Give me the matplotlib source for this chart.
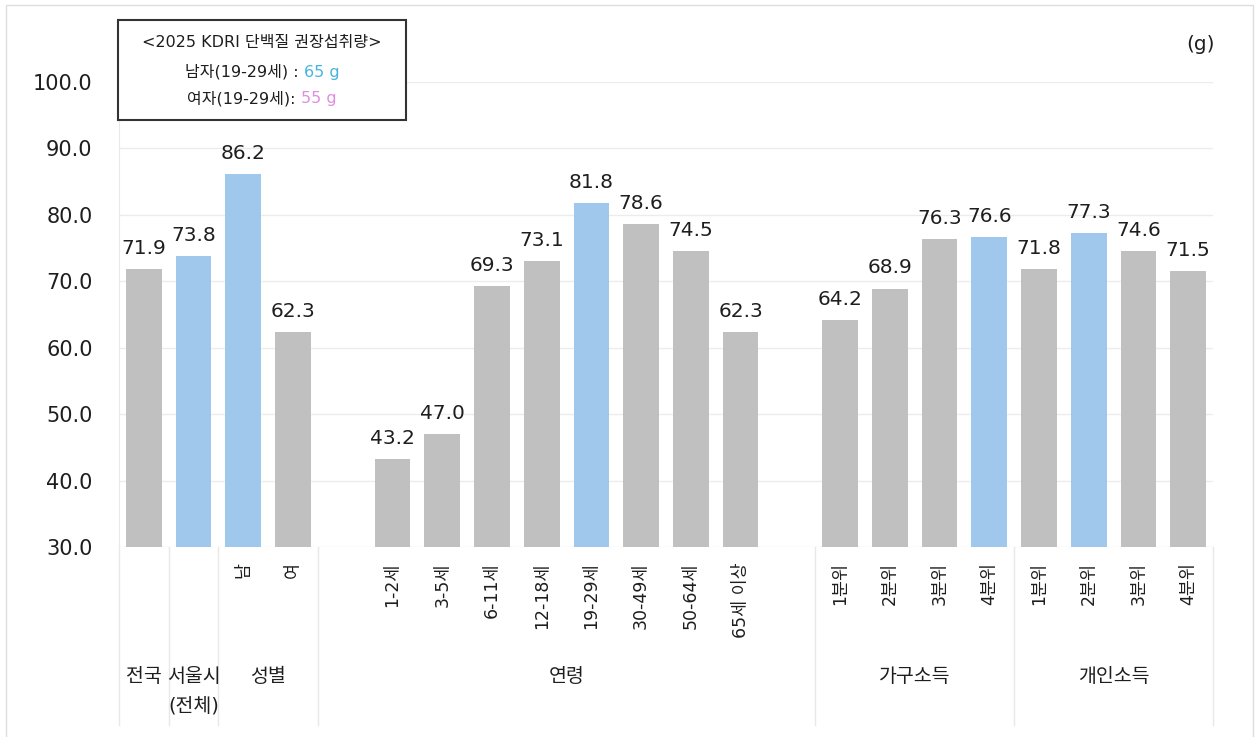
import matplotlib
matplotlib.use("Agg")
import matplotlib.pyplot as plt
from matplotlib.patches import Rectangle

plt.rcParams['font.family'] = ['DejaVu Sans', 'Noto Sans CJK KR']

# ---- data ----
group_names = ['전국', '서울시\n(전체)', '성별', '연령', '가구소득', '개인소득']
group_sizes = [1, 1, 2, 8, 4, 4]
group_pad = [0, 0, 0, 1, 0, 0]          # empty slots on each side of a group

tick_labels = ['', '', '남', '여',
               '1-2세', '3-5세', '6-11세', '12-18세', '19-29세', '30-49세', '50-64세', '65세 이상',
               '1분위', '2분위', '3분위', '4분위',
               '1분위', '2분위', '3분위', '4분위']
values = [71.9, 73.8, 86.2, 62.3,
          43.2, 47.0, 69.3, 73.1, 81.8, 78.6, 74.5, 62.3,
          64.2, 68.9, 76.3, 76.6,
          71.8, 77.3, 74.6, 71.5]
highlight = [0, 1, 1, 0,
             0, 0, 0, 0, 1, 0, 0, 0,
             0, 0, 0, 1,
             0, 1, 0, 0]

y_ticks = [30, 40, 50, 60, 70, 80, 90, 100]

box_title = '<2025 KDRI 단백질 권장섭취량>'
box_rows = [('남자(19-29세) : ', '65 g'), ('여자(19-29세): ', '55 g')]
unit_label = '(g)'

# ---- styles ----
GRAY = '#c0c0c0'
BLUE = '#9fc8ec'
GRID = '#ececec'
SEP = '#e8e8e8'
TXT = '#1e1e1e'
ROW_COLORS = ['#46b4de', '#e08ee0']

W, H = 1255, 737
fig = plt.figure(figsize=(W / 100, H / 100), dpi=100)

ax_l, ax_r, ax_top, ax_bot = 119, 1213, 82, 547
ax = fig.add_axes([ax_l / W, (H - ax_bot) / H, (ax_r - ax_l) / W, (ax_bot - ax_top) / H])

# slot positions for every bar, plus the spans of each group
xs, spans = [], []
pos = 0
for size, pad in zip(group_sizes, group_pad):
    start = pos
    pos += pad
    for _ in range(size):
        xs.append(pos)
        pos += 1
    pos += pad
    spans.append((start - 0.5, pos - 0.5))
n_slots = pos

colors = [BLUE if h else GRAY for h in highlight]
bars = ax.bar(xs, [v - 30 for v in values], bottom=30, width=0.72, color=colors, zorder=3)
for b, v in zip(bars, values):
    ax.annotate(f'{v:.1f}', (b.get_x() + b.get_width() / 2, v), xytext=(0, 8),
                textcoords='offset points', ha='center', va='bottom',
                fontsize=14.5, color=TXT)

ax.set_xlim(-0.5, n_slots - 0.5)
ax.set_ylim(30, 100)
ax.set_yticks(y_ticks)
ax.set_yticklabels([f'{t:.1f}' for t in y_ticks], fontsize=15, color=TXT)
ax.tick_params(axis='y', length=0, pad=19)
ax.set_xticks(xs)
ax.set_xticklabels(tick_labels, rotation=90, fontsize=12.5, color=TXT)
ax.tick_params(axis='x', length=0, pad=11)

for t in y_ticks:
    ax.axhline(t, color=GRID, lw=1, zorder=1)
for s in ['top', 'right', 'bottom']:
    ax.spines[s].set_visible(False)
ax.spines['left'].set_color(SEP)

# group separators and group names under the axis
xt = ax.get_xaxis_transform()
ax_h = ax_bot - ax_top
sep_bottom = -(725 - ax_bot) / ax_h
edges = sorted({e for sp in spans for e in sp})
for e in edges:
    ax.plot([e, e], [0, sep_bottom], transform=xt, color=SEP, lw=1, clip_on=False)
for name, (a, b) in zip(group_names, spans):
    for k, line in enumerate(name.split('\n')):
        y_px = 676 + 30 * k
        ax.text((a + b) / 2, -(y_px - ax_bot) / ax_h, line, transform=xt,
                ha='center', va='center', fontsize=14, color=TXT)

# unit label
fig.text(1200 / W, 1 - 45 / H, unit_label, ha='center', va='center', fontsize=14.5, color=TXT)

# recommended-intake box
fig.patches.append(Rectangle((118 / W, 1 - 120 / H), 288 / W, 100 / H, transform=fig.transFigure,
                             fill=True, facecolor='white', edgecolor='#333333', lw=1.5, zorder=5))
fig.text(262 / W, 1 - 43 / H, box_title, ha='center', va='center', fontsize=11.5,
         color=TXT, zorder=6)
fig.canvas.draw()
renderer = fig.canvas.get_renderer()
for (lead, amount), col, cy in zip(box_rows, ROW_COLORS, [72, 99]):
    t1 = fig.text(0, 1 - cy / H, lead, ha='left', va='center', fontsize=11.5, color=TXT, zorder=6)
    t2 = fig.text(0, 1 - cy / H, amount, ha='left', va='center', fontsize=11.5, color=col, zorder=6)
    w1 = t1.get_window_extent(renderer).width
    w2 = t2.get_window_extent(renderer).width
    x0 = 262 - (w1 + w2) / 2
    t1.set_x(x0 / W)
    t2.set_x((x0 + w1) / W)

# thin frame around the whole figure
fig.patches.append(Rectangle((6 / W, -0.01), (1253 - 6) / W, 1.01 - 5 / H, transform=fig.transFigure,
                             fill=False, edgecolor='#dddddd', lw=1, zorder=0))

fig.savefig('out.png', dpi=100)
